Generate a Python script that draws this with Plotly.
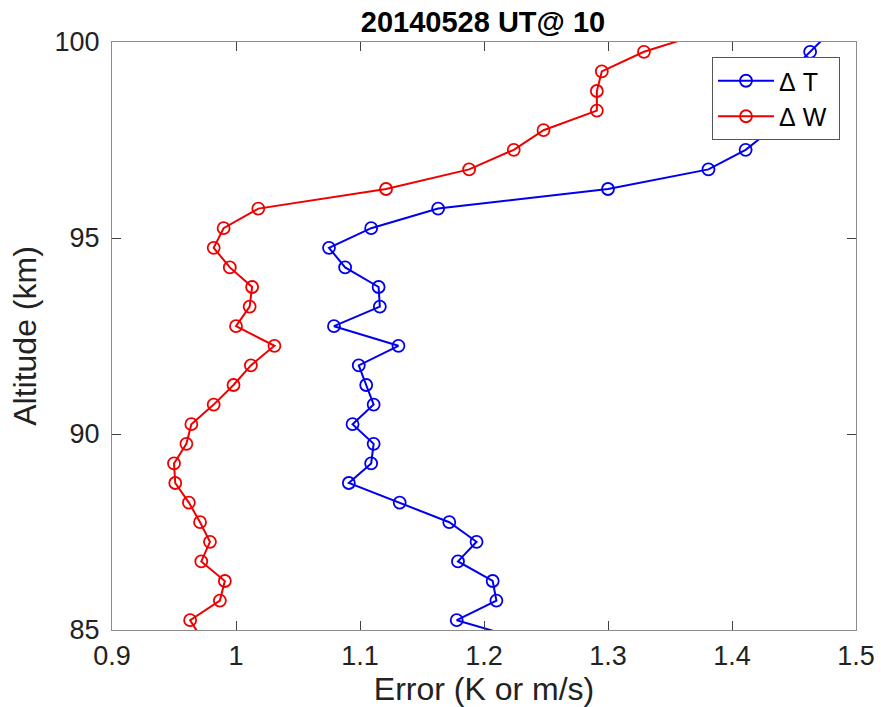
import plotly.graph_objects as go

# Altitude grid (km), 0.5 km steps; end points run past the axis range and are clipped
altitude = [84.75, 85.25, 85.75, 86.25, 86.75, 87.25, 87.75, 88.25, 88.75, 89.25, 89.75,
            90.25, 90.75, 91.25, 91.75, 92.25, 92.75, 93.25, 93.75, 94.25, 94.75,
            95.25, 95.75, 96.25, 96.75, 97.25, 97.75, 98.25, 98.75, 99.25, 99.75, 100.25]

# Temperature error (K)
delta_t = [1.232, 1.178, 1.210, 1.207, 1.179, 1.194, 1.172, 1.132, 1.091, 1.109, 1.111,
           1.094, 1.111, 1.105, 1.099, 1.131, 1.079, 1.116, 1.115, 1.088, 1.075,
           1.109, 1.163, 1.300, 1.381, 1.411, 1.431, 1.462, 1.460, 1.447, 1.463, 1.479]

# Wind error (m/s)
delta_w = [0.973, 0.963, 0.987, 0.991, 0.972, 0.979, 0.971, 0.962, 0.951, 0.950, 0.960,
           0.964, 0.982, 0.998, 1.012, 1.031, 1.000, 1.011, 1.013, 0.995, 0.982,
           0.990, 1.018, 1.121, 1.188, 1.224, 1.248, 1.291, 1.291, 1.295, 1.329, 1.379]

x_ticks = [0.9, 1.0, 1.1, 1.2, 1.3, 1.4, 1.5]
x_tick_text = ["0.9", "1", "1.1", "1.2", "1.3", "1.4", "1.5"]
y_ticks = [85, 90, 95, 100]

FONT = "Liberation Sans, Arial, Helvetica, sans-serif"

fig = go.Figure()
for name, vals, color in [("Δ\u00a0T\u00a0\u00a0", delta_t, "#0000ee"), ("Δ\u00a0W\u00a0", delta_w, "#ee0000")]:
    fig.add_trace(go.Scatter(
        x=vals, y=altitude, mode="lines+markers", name=name,
        line=dict(color=color, width=2),
        marker=dict(symbol="circle-open", size=12, color=color, line=dict(width=1.8, color=color)),
    ))

axis_common = dict(
    showgrid=False, zeroline=False, showline=True, linecolor="#8c8c8c", linewidth=1,
    mirror="allticks", ticks="inside", ticklen=9, tickwidth=1, tickcolor="#404040",
    tickfont=dict(family=FONT, size=27, color="#222222"), automargin=False,
)

fig.update_layout(
    width=881, height=707,
    margin=dict(l=112, r=25, t=42, b=77),
    paper_bgcolor="white", plot_bgcolor="white",
    title=dict(text="<b>20140528 UT@ 10</b>", x=483 / 881, xanchor="center", xref="container",
               y=1 - 22 / 707, yanchor="middle", yref="container",
               font=dict(family=FONT, size=29, color="black")),
    xaxis=dict(range=[0.9, 1.5], tickvals=x_ticks, ticktext=x_tick_text,
               title=dict(text="Error (K or m/s)", font=dict(family=FONT, size=32, color="#222222"), standoff=0),
               ticklabelstandoff=2, **axis_common),
    yaxis=dict(range=[85, 100], tickvals=y_ticks,
               title=dict(text="Altitude (km)", font=dict(family=FONT, size=32, color="#222222"), standoff=8),
               ticklabelstandoff=6, **axis_common),
    legend=dict(x=(712 - 112) / 744, y=(630 - 57) / 588, xanchor="left", yanchor="top",
                bgcolor="white", bordercolor="#555555", borderwidth=1,
                font=dict(family=FONT, size=25, color="black"),
                itemwidth=56, tracegroupgap=0),
    showlegend=True,
)

fig.write_html("out.html")
